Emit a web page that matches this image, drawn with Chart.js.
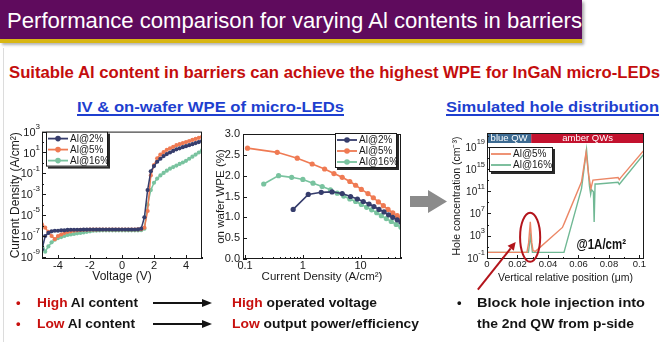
<!DOCTYPE html>
<html>
<head>
<meta charset="utf-8">
<script src="https://cdn.jsdelivr.net/npm/chart.js@4.4.1/dist/chart.umd.min.js"></script>
<style>
  html, body { margin: 0; padding: 0; background: #fff; }
  #slide { position: relative; width: 668px; height: 342px; overflow: hidden;
           font-family: "Liberation Sans", Arial, sans-serif; }
  .abs { position: absolute; white-space: nowrap; }
  [data-w] { transform-origin: 0 50%; }
  #bar { left: 0; top: 0; width: 582px; height: 39px; background: #5f0b5d;
         box-shadow: 2px 2px 3px rgba(0,0,0,0.35); }
  #barLine { left: 0; top: 39px; width: 582px; height: 4px; background: #d9b713;
             box-shadow: 2px 2px 3px rgba(0,0,0,0.3); }
  #edge { left: 3px; top: 48px; width: 1px; height: 294px; background: #dcdcdc; }
  #title { left: 7px; top: 10px; font-size: 22.5px; line-height: 22.5px; color: #fff; }
  #lead { left: 9px; top: 65px; font-size: 16px; line-height: 16px; font-weight: bold; color: #c40d0d; }
  .head { top: 99px; font-size: 15.5px; line-height: 15.5px; font-weight: bold; color: #1e3fcf;
          text-decoration: underline; text-decoration-thickness: 1.5px; text-underline-offset: 2px; }
  .pt { font-size: 13.5px; line-height: 13.5px; font-weight: bold; color: #141414; }
  .red { color: #c8100e; }
  .dot { font-size: 13px; line-height: 13.5px; font-weight: bold; }
  canvas { position: absolute; }
  svg { position: absolute; left: 0; top: 0; }
</style>
</head>
<body>
<div id="slide">
  <div class="abs" id="edge"></div>
  <div class="abs" id="bar"></div>
  <div class="abs" id="barLine"></div>
  <div class="abs" id="title" data-w="575">Performance comparison for varying Al contents in barriers</div>
  <div class="abs" id="lead" data-w="651">Suitable Al content in barriers can achieve the highest WPE for InGaN micro-LEDs</div>
  <div class="abs head" style="left:77px" data-w="267">IV &amp; on-wafer WPE of micro-LEDs</div>
  <div class="abs head" style="left:446px" data-w="213">Simulated hole distribution</div>

  <canvas id="ivChart" width="214" height="165" style="left:0;top:122px"></canvas>
  <canvas id="wpeChart" width="200" height="165" style="left:214px;top:122px"></canvas>
  <canvas id="holeChart" width="223" height="178" style="left:445px;top:122px"></canvas>

  <svg width="668" height="342">
    <polygon points="410,196 428,196 428,190 447,201.5 428,213 428,207 410,207" fill="#8b8b8b"/>
    <g stroke="#141414" stroke-width="2">
      <line x1="153" y1="303" x2="204" y2="303"/>
      <line x1="153" y1="324" x2="204" y2="324"/>
    </g>
    <polygon points="202,299 212,303 202,307" fill="#141414"/>
    <polygon points="202,320 212,324 202,328" fill="#141414"/>
  </svg>

  <div class="abs dot red" style="left:16px;top:296px">•</div>
  <div class="abs dot red" style="left:16px;top:317px">•</div>
  <div class="abs dot" style="left:457px;top:296px;color:#141414">•</div>
  <div class="abs pt" style="left:37px;top:296px" data-w="101"><span class="red">High</span> Al content</div>
  <div class="abs pt" style="left:37px;top:317px" data-w="98"><span class="red">Low</span> Al content</div>
  <div class="abs pt" style="left:232px;top:296px" data-w="145"><span class="red">High</span> operated voltage</div>
  <div class="abs pt" style="left:232px;top:317px" data-w="187"><span class="red">Low</span> output power/efficiency</div>
  <div class="abs pt" style="left:477px;top:296px" data-w="168">Block hole injection into</div>
  <div class="abs pt" style="left:477px;top:317px" data-w="157">the 2nd QW from p-side</div>
</div>

<script>
// squeeze the slide text into its boxes
document.querySelectorAll('[data-w]').forEach(el => {
  const w = el.getBoundingClientRect().width;
  el.style.transform = 'scaleX(' + (Number(el.dataset.w) / w) + ')';
});

const FONT = '"Liberation Sans", Arial, sans-serif';
Chart.defaults.font.family = FONT;
Chart.defaults.font.size = 11;
Chart.defaults.color = '#1a1a1a';

const NAVY = '#363d6c';
const ORANGE = '#ef7a53';
const GREEN = '#79c39f';

// ---- IV curves ----
const ivVolts = [-5.0, -4.8, -4.6, -4.4, -4.2, -4.0, -3.8, -3.6, -3.4, -3.2,
  -3.0, -2.8, -2.6, -2.4, -2.2, -2.0, -1.8, -1.6, -1.4, -1.2,
  -1.0, -0.8, -0.6, -0.4, -0.2, 0, 0.2, 0.4, 0.6, 0.8,
  1.0, 1.2, 1.4, 1.6, 1.8, 2.0, 2.2, 2.4, 2.6, 2.8,
  3.0, 3.2, 3.4, 3.6, 3.8, 4.0, 4.2, 4.4, 4.6, 4.8, 5.0];
const ivAl2 = [5e-9, 1e-7, 2e-7, 2.8e-7, 3.2e-7, 3.2e-7, 3.5e-7, 3.5e-7, 3.8e-7, 4e-7,
  4e-7, 4e-7, 4e-7, 4.1e-7, 4.1e-7, 4.2e-7, 4.2e-7, 4.2e-7, 4.2e-7, 4.2e-7,
  4.2e-7, 4.2e-7, 4.2e-7, 4.2e-7, 4.2e-7, 4.2e-7, 4.2e-7, 4.2e-7, 4.2e-7, 4.2e-7,
  4.3e-7, 5e-7, 6.3e-6, 2.5e-3, 0.16, 0.5, 1.3, 2.5, 4.5, 7,
  10, 14, 20, 25, 32, 40, 50, 63, 79, 100, 126];
const ivAl5 = [1.3e-6, 6.3e-7, 2.5e-7, 1e-7, 5e-8, 1e-7, 1.4e-7, 2e-7, 2.5e-7, 2.8e-7,
  3.2e-7, 3.5e-7, 3.8e-7, 4e-7, 4e-7, 4.1e-7, 4.1e-7, 4.1e-7, 4.2e-7, 4.2e-7,
  4.2e-7, 4.2e-7, 4.2e-7, 4.2e-7, 4.2e-7, 4.2e-7, 4.2e-7, 4.2e-7, 4.2e-7, 4.2e-7,
  4.3e-7, 4.5e-7, 6.3e-7, 2.5e-5, 6.3e-2, 0.63, 2.8, 6.3, 11, 18,
  25, 35, 50, 63, 79, 100, 126, 158, 200, 251, 316];
const ivAl16 = [2.5e-8, 3.2e-9, 1e-8, 2.5e-8, 4.5e-8, 6.3e-8, 8e-8, 1e-7, 1.26e-7, 1.4e-7,
  1.6e-7, 1.8e-7, 2e-7, 2.2e-7, 2.5e-7, 2.8e-7, 3.2e-7, 3.3e-7, 3.4e-7, 3.5e-7,
  3.5e-7, 3.5e-7, 3.5e-7, 3.5e-7, 3.5e-7, 3.5e-7, 3.5e-7, 3.5e-7, 3.5e-7, 3.5e-7,
  3.5e-7, 3.6e-7, 5e-7, 1e-4, 2.5e-3, 1.26e-2, 3.2e-2, 6.3e-2, 0.11, 0.18,
  0.28, 0.4, 0.56, 0.8, 1.1, 1.6, 2.5, 4, 6.3, 10, 16];
const ivTicksX = [-5, -4, -3, -2, -1, 0, 1, 2, 3, 4, 5];
const ivLabelsX = [-4, -2, 0, 2, 4];
const ivTicksY = [1e-9, 1e-8, 1e-7, 1e-6, 1e-5, 1e-4, 1e-3, 1e-2, 1e-1, 1, 10, 100, 1000];
const ivLabelsY = [1e-9, 1e-7, 1e-5, 1e-3, 1e-1, 10, 1000];

// ---- on-wafer WPE ----
const wpeJAl2 = [0.68, 1.24, 2.08, 3.2, 4.8, 6.7, 8.8, 11.1, 14, 17, 20.8, 25.4, 30.5, 36, 43, 50];
const wpeAl2 = [1.19, 1.55, 1.60, 1.61, 1.57, 1.50, 1.44, 1.38, 1.32, 1.26, 1.19, 1.13, 1.06, 1.0, 0.94, 0.88];
const wpeJAl5 = [0.11, 0.36, 0.8, 1.45, 2.38, 3.45, 4.8, 6.5, 8.2, 10.3, 13.4, 16.6, 20.3, 24.7, 29.8, 36, 43, 50];
const wpeAl5 = [2.66, 2.56, 2.42, 2.28, 2.16, 2.05, 1.96, 1.86, 1.77, 1.67, 1.57, 1.47, 1.37, 1.28, 1.19, 1.11, 1.04, 0.99];
const wpeJAl16 = [0.21, 0.38, 0.64, 1.0, 1.5, 2.16, 3.0, 3.94, 5.1, 6.5, 8.2, 10.3, 12.7, 15.5, 19, 22.8, 27.8, 33.9, 41.3, 50];
const wpeAl16 = [1.80, 2.00, 1.96, 1.91, 1.82, 1.74, 1.66, 1.58, 1.51, 1.44, 1.38, 1.31, 1.24, 1.18, 1.11, 1.04, 0.97, 0.90, 0.83, 0.76];
const wpeTicksX = [0.1, 0.2, 0.3, 0.4, 0.5, 0.6, 0.7, 0.8, 0.9, 1, 2, 3, 4, 5, 6, 7, 8, 9, 10, 20, 30, 40, 50];
const wpeLabelsX = [0.1, 1, 10];
const wpeTicksY = [0, 0.5, 1.0, 1.5, 2.0, 2.5, 3.0];

// ---- simulated hole concentration at 1 A/cm2 ----
const holeXAl5 = [0, 0.0262, 0.0273, 0.0284, 0.0294, 0.0302, 0.0318, 0.0495, 0.0508, 0.062,
  0.065, 0.0668, 0.0682, 0.0695, 0.086, 0.0868, 0.0876, 0.103];
const holeAl5 = [1, 1, 50, 3e5, 50, 2, 1.5, 3e4, 2e5, 5e12,
  1e18, 5e13, 3e11, 1e13, 3e13, 1.2e13, 2.5e13, 2.5e18];
const holeXAl16 = [0, 0.0272, 0.0279, 0.0285, 0.0291, 0.0298, 0.0505, 0.062, 0.0653, 0.0672,
  0.068, 0.0685, 0.0698, 0.0703, 0.0709, 0.0725, 0.086, 0.0868, 0.0875, 0.103];
const holeAl16 = [1, 1, 40, 1e3, 40, 1, 1, 3e11, 3e18, 1e12,
  3e10, 2e11, 8e10, 3e5, 2e12, 2e12, 4e12, 1.8e12, 3e12, 5e17];
const holeTicksX = [0, 0.01, 0.02, 0.03, 0.04, 0.05, 0.06, 0.07, 0.08, 0.09, 0.1];
const holeLabelsX = [0, 0.02, 0.04, 0.06, 0.08, 0.1];
const holeTicksY = [1e-1, 1e1, 1e3, 1e5, 1e7, 1e9, 1e11, 1e13, 1e15, 1e17, 1e19, 1e21];
const holeLabelsY = [1e-1, 1e3, 1e7, 1e11, 1e15, 1e19];

function pairs(xs, ys) {
  return xs.map((x, i) => ({x: x, y: ys[i]}));
}

// fixed tick lists; "big" marks the labelled ones
function tickList(values, labelled) {
  return scale => {
    scale.ticks = values.map(v => ({value: v, big: labelled.includes(v)}));
  };
}

// frame, inward ticks, 10^n labels, boxed legend and notes
const slidePlugin = {
  id: 'slide',
  afterDraw(chart, args, o) {
    const ctx = chart.ctx;
    const a = chart.chartArea;
    const sx = chart.scales.x, sy = chart.scales.y;
    ctx.save();

    if (o.band) {
      const split = sx.getPixelForValue(o.band.split);
      ctx.fillStyle = '#3d6b92';
      ctx.fillRect(a.left, a.top, split - a.left, o.band.h);
      ctx.fillStyle = '#c3122e';
      ctx.fillRect(split, a.top, a.right - split, o.band.h);
      ctx.fillStyle = '#fff';
      ctx.font = '9.5px ' + FONT;
      ctx.textAlign = 'center';
      ctx.textBaseline = 'middle';
      ctx.fillText(o.band.left, (a.left + split) / 2, a.top + o.band.h / 2 + 0.5);
      ctx.fillText(o.band.right, (split + a.right) / 2, a.top + o.band.h / 2 + 0.5);
    }

    ctx.strokeStyle = '#1a1a1a';
    ctx.lineWidth = 1;
    ctx.strokeRect(a.left + 0.5, a.top + 0.5, a.width - 1, a.height - 1);
    ctx.beginPath();
    sx.ticks.forEach(t => {
      const p = Math.round(sx.getPixelForValue(t.value)) + 0.5;
      ctx.moveTo(p, a.bottom);
      ctx.lineTo(p, a.bottom - (t.big ? 4 : 2));
    });
    sy.ticks.forEach(t => {
      const p = Math.round(sy.getPixelForValue(t.value)) + 0.5;
      ctx.moveTo(a.left, p);
      ctx.lineTo(a.left + (t.big ? 4 : 2), p);
    });
    ctx.stroke();

    if (o.powers) {
      ctx.fillStyle = '#1a1a1a';
      ctx.textBaseline = 'middle';
      sy.ticks.forEach(t => {
        if (!t.big) return;
        const p = sy.getPixelForValue(t.value);
        const e = String(Math.round(Math.log10(t.value)));
        const right = a.left - o.powers.gap;
        ctx.font = o.powers.sup + 'px ' + FONT;
        ctx.textAlign = 'right';
        const ew = ctx.measureText(e).width;
        ctx.fillText(e, right, p - o.powers.rise);
        ctx.font = o.powers.size + 'px ' + FONT;
        ctx.fillText('10', right - ew, p + 1);
      });
    }

    if (o.legend) {
      const L = o.legend;
      const x = L.right !== undefined ? a.right - L.right - L.w : a.left + L.left;
      const y = a.top + L.top;
      ctx.fillStyle = '#2a2a2a';
      ctx.fillRect(x + 2, y + 2, L.w, L.h);
      ctx.fillStyle = '#fff';
      ctx.fillRect(x, y, L.w, L.h);
      ctx.strokeStyle = '#1a1a1a';
      ctx.lineWidth = 1;
      ctx.strokeRect(x + 0.5, y + 0.5, L.w - 1, L.h - 1);
      chart.data.datasets.forEach((ds, i) => {
        const cy = y + L.first + i * L.step;
        ctx.strokeStyle = ds.borderColor;
        ctx.lineWidth = 1.8;
        ctx.beginPath();
        ctx.moveTo(x + 2, cy);
        ctx.lineTo(x + 22, cy);
        ctx.stroke();
        if (ds.pointRadius > 0) {
          ctx.fillStyle = ds.borderColor;
          ctx.beginPath();
          ctx.arc(x + 12, cy, 2.8, 0, Math.PI * 2);
          ctx.fill();
        }
        ctx.fillStyle = '#1a1a1a';
        ctx.font = L.font + 'px ' + FONT;
        ctx.textAlign = 'left';
        ctx.textBaseline = 'middle';
        ctx.fillText(ds.label, x + 24, cy + 0.5);
      });
    }

    if (o.ring) {
      const r = o.ring;
      const cx = sx.getPixelForValue(r.x);
      const top = sy.getPixelForValue(r.yHigh);
      const bottom = sy.getPixelForValue(r.yLow);
      const rx = sx.getPixelForValue(r.x + r.dx) - cx;
      ctx.strokeStyle = '#b3141b';
      ctx.lineWidth = 2;
      ctx.beginPath();
      ctx.ellipse(cx, (top + bottom) / 2, rx, (bottom - top) / 2, 0, 0, Math.PI * 2);
      ctx.stroke();
    }

    if (o.pointer) {
      const p = o.pointer;
      const x0 = sx.getPixelForValue(p.from[0]), y0 = sy.getPixelForValue(p.from[1]);
      const x1 = sx.getPixelForValue(p.to[0]), y1 = sy.getPixelForValue(p.to[1]);
      const ang = Math.atan2(y1 - y0, x1 - x0);
      const hx = x1 - 8 * Math.cos(ang), hy = y1 - 8 * Math.sin(ang);
      ctx.strokeStyle = '#b3141b';
      ctx.fillStyle = '#b3141b';
      ctx.lineWidth = 2;
      ctx.beginPath();
      ctx.moveTo(x0, y0);
      ctx.lineTo(hx, hy);
      ctx.stroke();
      ctx.beginPath();
      ctx.moveTo(x1, y1);
      ctx.lineTo(hx + 4 * Math.sin(ang), hy - 4 * Math.cos(ang));
      ctx.lineTo(hx - 4 * Math.sin(ang), hy + 4 * Math.cos(ang));
      ctx.closePath();
      ctx.fill();
    }

    if (o.note) {
      ctx.translate(a.right - o.note.right, a.bottom - o.note.up);
      ctx.scale(0.82, 1);
      ctx.fillStyle = '#111';
      ctx.font = 'bold 14px ' + FONT;
      ctx.textAlign = 'right';
      ctx.textBaseline = 'middle';
      ctx.fillText(o.note.text, 0, 0);
    }
    ctx.restore();
  }
};

function axisTitle(text, size, pad) {
  return {display: true, text: text, font: {size: size}, color: '#1a1a1a', padding: pad};
}

const common = {
  responsive: false,
  animation: false,
  devicePixelRatio: 1,
  events: [],
  plugins: {legend: {display: false}, tooltip: {enabled: false}}
};

function lineSet(label, data, color, radius, width) {
  return {
    label: label, data: data, borderColor: color, backgroundColor: color,
    pointBackgroundColor: color, pointBorderColor: color,
    pointRadius: radius, pointBorderWidth: 0, borderWidth: width, tension: 0
  };
}

new Chart(document.getElementById('ivChart'), {
  type: 'line',
  data: {
    datasets: [
      lineSet('Al@2%', pairs(ivVolts, ivAl2), NAVY, 2.1, 1.5),
      lineSet('Al@5%', pairs(ivVolts, ivAl5), ORANGE, 2.1, 1.5),
      lineSet('Al@16%', pairs(ivVolts, ivAl16), GREEN, 2.1, 1.5)
    ]
  },
  options: {
    ...common,
    layout: {padding: {top: 9, right: 12, left: 0, bottom: 0}},
    scales: {
      x: {
        type: 'linear', min: -5, max: 5,
        afterBuildTicks: tickList(ivTicksX, ivLabelsX),
        afterFit: s => { s.height = 28; },
        grid: {display: false, drawTicks: false}, border: {display: false},
        ticks: {autoSkip: false, maxRotation: 0, padding: 0, font: {size: 11},
                callback: (v, i, t) => t[i].big ? String(v) : ''},
        title: axisTitle('Voltage (V)', 12, {top: 0, bottom: 3})
      },
      y: {
        type: 'logarithmic', min: 6.3e-10, max: 1000,
        afterBuildTicks: tickList(ivTicksY, ivLabelsY),
        afterFit: s => { s.width = 42; },
        grid: {display: false, drawTicks: false}, border: {display: false},
        ticks: {autoSkip: false, callback: () => ''},
        title: axisTitle('Current Density (A/cm²)', 12, {top: 8, bottom: 0})
      }
    },
    plugins: {
      ...common.plugins,
      slide: {
        powers: {size: 11, sup: 8, rise: 5, gap: 2},
        legend: {left: 4, top: 0, w: 62, h: 35, first: 7, step: 11, font: 10}
      }
    }
  },
  plugins: [slidePlugin]
});

new Chart(document.getElementById('wpeChart'), {
  type: 'line',
  data: {
    datasets: [
      lineSet('Al@2%', pairs(wpeJAl2, wpeAl2), NAVY, 2.6, 1.6),
      lineSet('Al@5%', pairs(wpeJAl5, wpeAl5), ORANGE, 2.6, 1.6),
      lineSet('Al@16%', pairs(wpeJAl16, wpeAl16), GREEN, 2.6, 1.6)
    ]
  },
  options: {
    ...common,
    layout: {padding: {top: 12, right: 13, left: 0, bottom: 0}},
    scales: {
      x: {
        type: 'logarithmic', min: 0.092, max: 50,
        afterBuildTicks: tickList(wpeTicksX, wpeLabelsX),
        afterFit: s => { s.height = 28; },
        grid: {display: false, drawTicks: false}, border: {display: false},
        ticks: {autoSkip: false, maxRotation: 0, padding: 0, font: {size: 11},
                callback: (v, i, t) => t[i].big ? String(v) : ''},
        title: axisTitle('Current Density (A/cm²)', 11.5, {top: 0, bottom: 3})
      },
      y: {
        type: 'linear', min: 0, max: 3.0,
        afterBuildTicks: tickList(wpeTicksY, wpeTicksY),
        afterFit: s => { s.width = 29; },
        grid: {display: false, drawTicks: false}, border: {display: false},
        ticks: {autoSkip: false, padding: 3, font: {size: 11},
                callback: v => v.toFixed(1)},
        title: axisTitle('on wafer WPE (%)', 11.5, {top: 0, bottom: 0})
      }
    },
    plugins: {
      ...common.plugins,
      slide: {
        legend: {right: 4, top: -1, w: 62, h: 35, first: 7, step: 11, font: 10}
      }
    }
  },
  plugins: [slidePlugin]
});

new Chart(document.getElementById('holeChart'), {
  type: 'line',
  data: {
    datasets: [
      lineSet('Al@5%', pairs(holeXAl5, holeAl5), '#ec8766', 0, 1.4),
      lineSet('Al@16%', pairs(holeXAl16, holeAl16), '#70b894', 0, 1.4)
    ]
  },
  options: {
    ...common,
    layout: {padding: {top: 11, right: 24, left: 0, bottom: 12}},
    scales: {
      x: {
        type: 'linear', min: 0, max: 0.103,
        afterBuildTicks: tickList(holeTicksX, holeLabelsX),
        afterFit: s => { s.height = 29; },
        grid: {display: false, drawTicks: false}, border: {display: false},
        ticks: {autoSkip: false, maxRotation: 0, padding: 0, font: {size: 9.5},
                callback: (v, i, t) => t[i].big ? String(v) : ''},
        title: axisTitle('Vertical relative position (μm)', 10.5, {top: 0, bottom: 4})
      },
      y: {
        type: 'logarithmic', min: 0.063, max: 3e21,
        afterBuildTicks: tickList(holeTicksY, holeLabelsY),
        afterFit: s => { s.width = 42; },
        grid: {display: false, drawTicks: false}, border: {display: false},
        ticks: {autoSkip: false, callback: () => ''},
        title: axisTitle('Hole concentration (cm⁻³)', 10.5, {top: 6, bottom: 0})
      }
    },
    plugins: {
      ...common.plugins,
      slide: {
        band: {split: 0.029, h: 10, left: 'blue QW', right: 'amber QWs'},
        powers: {size: 10, sup: 7.5, rise: 4.5, gap: 2},
        legend: {left: 2, top: 14, w: 64, h: 25, first: 7, step: 11, font: 10},
        ring: {x: 0.0283, dx: 0.0066, yLow: 0.02, yHigh: 1.3e7},
        pointer: {from: [-0.006, 2e-7], to: [0.0188, 70]},
        note: {text: '@1A/cm²', right: 18, up: 14}
      }
    }
  },
  plugins: [slidePlugin]
});
</script>
</body>
</html>
